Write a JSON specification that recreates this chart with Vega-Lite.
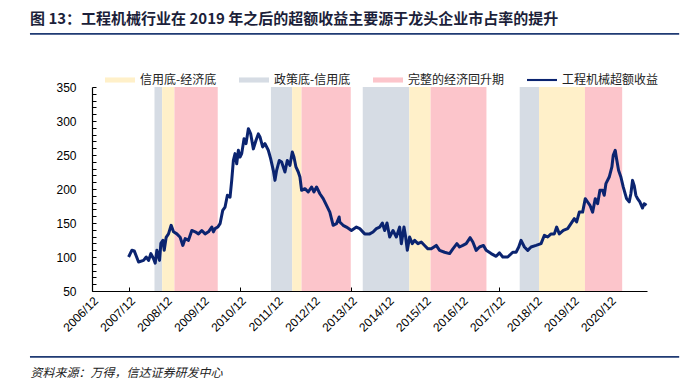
{
  "$schema": "https://vega.github.io/schema/vega-lite/v6.json",
  "autosize": {"type": "none"},
  "width": 555,
  "height": 204,
  "padding": {"left": 92, "top": 87, "right": 42, "bottom": 90},
  "background": "white",
  "title": {
    "text": "图 13：工程机械行业在 2019 年之后的超额收益主要源于龙头企业市占率的提升",
    "anchor": "start",
    "frame": "group",
    "dx": -62,
    "offset": 6,
    "font": "Noto Sans CJK SC",
    "fontSize": 15,
    "fontWeight": "bold",
    "color": "#1c1f3a"
  },
  "config": {
    "view": {"stroke": null},
    "axis": {"labelFont": "Liberation Sans", "labelFontSize": 12, "labelColor": "#000", "domainColor": "#000", "tickColor": "#000", "grid": false}
  },
  "resolve": {"axis": {"x": "independent", "y": "independent"}},
  "datasets": {
    "phases": [
      {"t": 2008.606, "end": 2008.813, "phase": "政策底-信用底"},
      {"t": 2008.813, "end": 2009.145, "phase": "信用底-经济底"},
      {"t": 2009.145, "end": 2010.316, "phase": "完整的经济回升期"},
      {"t": 2011.754, "end": 2012.328, "phase": "政策底-信用底"},
      {"t": 2012.328, "end": 2012.582, "phase": "信用底-经济底"},
      {"t": 2012.582, "end": 2013.912, "phase": "完整的经济回升期"},
      {"t": 2014.236, "end": 2015.495, "phase": "政策底-信用底"},
      {"t": 2015.495, "end": 2016.07, "phase": "信用底-经济底"},
      {"t": 2016.07, "end": 2017.58, "phase": "完整的经济回升期"},
      {"t": 2018.479, "end": 2019.002, "phase": "政策底-信用底"},
      {"t": 2019.002, "end": 2020.243, "phase": "信用底-经济底"},
      {"t": 2020.243, "end": 2021.249, "phase": "完整的经济回升期"}
    ],
    "series": [
      {"t": 2007.906, "v": 100}, {"t": 2007.996, "v": 110}, {"t": 2008.059, "v": 109}, {"t": 2008.176, "v": 92.6},
      {"t": 2008.311, "v": 95}, {"t": 2008.383, "v": 100}, {"t": 2008.446, "v": 95}, {"t": 2008.509, "v": 105},
      {"t": 2008.581, "v": 97.5}, {"t": 2008.626, "v": 91}, {"t": 2008.671, "v": 110}, {"t": 2008.743, "v": 95},
      {"t": 2008.779, "v": 120}, {"t": 2008.833, "v": 124.5}, {"t": 2008.869, "v": 110}, {"t": 2008.922, "v": 129},
      {"t": 2008.985, "v": 134}, {"t": 2009.057, "v": 146.6}, {"t": 2009.120, "v": 137}, {"t": 2009.210, "v": 134},
      {"t": 2009.300, "v": 129}, {"t": 2009.372, "v": 117}, {"t": 2009.435, "v": 127}, {"t": 2009.525, "v": 124.5},
      {"t": 2009.615, "v": 139}, {"t": 2009.705, "v": 137}, {"t": 2009.795, "v": 134}, {"t": 2009.885, "v": 139},
      {"t": 2009.975, "v": 134}, {"t": 2010.065, "v": 137}, {"t": 2010.155, "v": 144}, {"t": 2010.199, "v": 137},
      {"t": 2010.244, "v": 141.7}, {"t": 2010.316, "v": 144}, {"t": 2010.379, "v": 149}, {"t": 2010.451, "v": 168.6},
      {"t": 2010.514, "v": 173.5}, {"t": 2010.577, "v": 190.7}, {"t": 2010.649, "v": 188}, {"t": 2010.694, "v": 212.7},
      {"t": 2010.739, "v": 242}, {"t": 2010.784, "v": 252}, {"t": 2010.829, "v": 237}, {"t": 2010.874, "v": 257},
      {"t": 2010.919, "v": 247}, {"t": 2010.964, "v": 252}, {"t": 2011.027, "v": 274}, {"t": 2011.081, "v": 266.7},
      {"t": 2011.144, "v": 288.7}, {"t": 2011.207, "v": 281}, {"t": 2011.279, "v": 259}, {"t": 2011.351, "v": 271.6},
      {"t": 2011.413, "v": 281}, {"t": 2011.458, "v": 276.5}, {"t": 2011.530, "v": 261.8}, {"t": 2011.593, "v": 266.7},
      {"t": 2011.683, "v": 257}, {"t": 2011.746, "v": 244.6}, {"t": 2011.818, "v": 227.5}, {"t": 2011.863, "v": 212.7},
      {"t": 2011.908, "v": 227.5}, {"t": 2011.980, "v": 242}, {"t": 2012.043, "v": 239.7}, {"t": 2012.133, "v": 225},
      {"t": 2012.196, "v": 242}, {"t": 2012.268, "v": 234.8}, {"t": 2012.331, "v": 254.4}, {"t": 2012.376, "v": 247},
      {"t": 2012.430, "v": 232.4}, {"t": 2012.493, "v": 225}, {"t": 2012.538, "v": 217.6}, {"t": 2012.583, "v": 198},
      {"t": 2012.673, "v": 200.5}, {"t": 2012.762, "v": 195.6}, {"t": 2012.852, "v": 203}, {"t": 2012.915, "v": 195.6},
      {"t": 2012.987, "v": 203}, {"t": 2013.077, "v": 193}, {"t": 2013.167, "v": 185.8}, {"t": 2013.257, "v": 176},
      {"t": 2013.346, "v": 166}, {"t": 2013.436, "v": 146.6}, {"t": 2013.526, "v": 149}, {"t": 2013.598, "v": 158.8},
      {"t": 2013.615, "v": 151.5}, {"t": 2013.705, "v": 146.6}, {"t": 2013.795, "v": 144}, {"t": 2013.930, "v": 139},
      {"t": 2014.065, "v": 144}, {"t": 2014.155, "v": 141.7}, {"t": 2014.289, "v": 134}, {"t": 2014.424, "v": 134},
      {"t": 2014.514, "v": 136.8}, {"t": 2014.604, "v": 141.7}, {"t": 2014.694, "v": 144}, {"t": 2014.766, "v": 150},
      {"t": 2014.829, "v": 139}, {"t": 2014.892, "v": 150}, {"t": 2014.964, "v": 129.4}, {"t": 2015.054, "v": 139},
      {"t": 2015.144, "v": 129.4}, {"t": 2015.234, "v": 144}, {"t": 2015.279, "v": 119.6}, {"t": 2015.351, "v": 144},
      {"t": 2015.396, "v": 129.4}, {"t": 2015.441, "v": 109.8}, {"t": 2015.503, "v": 129.4}, {"t": 2015.575, "v": 119.6},
      {"t": 2015.638, "v": 124.5}, {"t": 2015.728, "v": 119.6}, {"t": 2015.818, "v": 122}, {"t": 2015.908, "v": 117},
      {"t": 2015.998, "v": 112}, {"t": 2016.088, "v": 112}, {"t": 2016.223, "v": 117}, {"t": 2016.313, "v": 109.8},
      {"t": 2016.448, "v": 107}, {"t": 2016.583, "v": 105}, {"t": 2016.673, "v": 112}, {"t": 2016.781, "v": 119.6},
      {"t": 2016.852, "v": 114.7}, {"t": 2016.942, "v": 117}, {"t": 2017.032, "v": 119.6}, {"t": 2017.140, "v": 128.4},
      {"t": 2017.212, "v": 122}, {"t": 2017.302, "v": 109.8}, {"t": 2017.392, "v": 114.7}, {"t": 2017.500, "v": 117},
      {"t": 2017.572, "v": 109.8}, {"t": 2017.707, "v": 105}, {"t": 2017.842, "v": 101}, {"t": 2017.932, "v": 106},
      {"t": 2018.022, "v": 100}, {"t": 2018.156, "v": 100}, {"t": 2018.291, "v": 107}, {"t": 2018.381, "v": 107},
      {"t": 2018.453, "v": 114.7}, {"t": 2018.516, "v": 124.5}, {"t": 2018.606, "v": 114.7}, {"t": 2018.696, "v": 109.8},
      {"t": 2018.786, "v": 114.7}, {"t": 2018.921, "v": 117}, {"t": 2019.056, "v": 119.6}, {"t": 2019.146, "v": 131.9},
      {"t": 2019.236, "v": 129.4}, {"t": 2019.326, "v": 134}, {"t": 2019.415, "v": 134}, {"t": 2019.478, "v": 144},
      {"t": 2019.550, "v": 134}, {"t": 2019.658, "v": 139}, {"t": 2019.775, "v": 141.7}, {"t": 2019.865, "v": 149},
      {"t": 2019.955, "v": 156.4}, {"t": 2020.018, "v": 151.5}, {"t": 2020.090, "v": 166}, {"t": 2020.180, "v": 166},
      {"t": 2020.252, "v": 185.8}, {"t": 2020.315, "v": 180.9}, {"t": 2020.378, "v": 176}, {"t": 2020.450, "v": 166},
      {"t": 2020.522, "v": 185.8}, {"t": 2020.585, "v": 178.4}, {"t": 2020.647, "v": 198}, {"t": 2020.719, "v": 198},
      {"t": 2020.764, "v": 190.7}, {"t": 2020.809, "v": 207.8}, {"t": 2020.899, "v": 217.6}, {"t": 2020.971, "v": 232.4},
      {"t": 2021.007, "v": 249.5}, {"t": 2021.061, "v": 256.9}, {"t": 2021.097, "v": 244.6}, {"t": 2021.151, "v": 227.5},
      {"t": 2021.214, "v": 217.6}, {"t": 2021.277, "v": 203}, {"t": 2021.367, "v": 185.8}, {"t": 2021.439, "v": 181},
      {"t": 2021.484, "v": 193}, {"t": 2021.529, "v": 212.7}, {"t": 2021.574, "v": 205}, {"t": 2021.619, "v": 190.7},
      {"t": 2021.664, "v": 185.8}, {"t": 2021.727, "v": 181}, {"t": 2021.799, "v": 172}, {"t": 2021.843, "v": 178.4},
      {"t": 2021.906, "v": 176}
    ]
  },
  "layer": [
    {
      "data": {"name": "phases"},
      "mark": {"type": "rect"},
      "encoding": {
        "x": {
          "field": "t", "type": "quantitative",
          "scale": {"domain": [2006.917, 2021.92], "zero": false, "nice": false},
          "axis": {
            "values": [2006.917, 2007.917, 2008.917, 2009.917, 2010.917, 2011.917, 2012.917, 2013.917, 2014.917, 2015.917, 2016.917, 2017.917, 2018.917, 2019.917, 2020.917],
            "labelExpr": "floor(datum.value) + '/12'",
            "labelOverlap": false,
            "labelAngle": -45, "labelAlign": "right", "labelBaseline": "top",
            "tickSize": -4, "labelPadding": 8, "domainWidth": 1.2,
            "title": "资料来源：万得，信达证券研发中心",
            "titleFont": "Noto Sans CJK SC", "titleFontSize": 12, "titleFontStyle": "italic", "titleFontWeight": "normal",
            "titleColor": "#222", "titleAnchor": "start", "titleAlign": "left", "titleBaseline": "middle",
            "titleX": -62, "titleY": 81, "titleAngle": 0
          }
        },
        "x2": {"field": "end"},
        "color": {
          "field": "phase", "type": "nominal",
          "scale": {
            "domain": ["信用底-经济底", "政策底-信用底", "完整的经济回升期", "工程机械超额收益"],
            "range": ["#FFF0C9", "#D6DCE4", "#FCC5CB", "#0B2470"]
          },
          "legend": {
            "orient": "none", "legendX": 13, "legendY": -22, "direction": "horizontal", "title": null,
            "symbolType": "M-1,-0.17L1,-0.17L1,0.17L-1,0.17Z", "symbolSize": 900, "symbolStrokeWidth": 0,
            "labelFont": "Noto Sans CJK SC", "labelFontSize": 12, "labelColor": "#222", "labelOffset": 5, "columnPadding": 22,
            "encode": {"symbols": {"update": {"shape": {"signal": "datum.label === '工程机械超额收益' ? 'M-1,-0.07L1,-0.07L1,0.07L-1,0.07Z' : 'M-1,-0.17L1,-0.17L1,0.17L-1,0.17Z'"}}}}
          }
        }
      }
    },
    {
      "data": {"name": "series"},
      "mark": {"type": "line", "strokeWidth": 3, "strokeJoin": "round"},
      "encoding": {
        "x": {"field": "t", "type": "quantitative", "scale": {"domain": [2006.917, 2021.92], "zero": false, "nice": false}, "axis": null},
        "y": {
          "field": "v", "type": "quantitative",
          "scale": {"domain": [50, 350], "zero": false, "nice": false},
          "axis": {
            "values": [50, 60, 70, 80, 90, 100, 110, 120, 130, 140, 150, 160, 170, 180, 190, 200, 210, 220, 230, 240, 250, 260, 270, 280, 290, 300, 310, 320, 330, 340, 350],
            "labelExpr": "datum.value % 50 === 0 ? datum.label : ''",
            "labelOverlap": false,
            "tickSize": -4, "labelPadding": 20, "title": null, "domainWidth": 1.2
          }
        },
        "color": {"datum": "工程机械超额收益"}
      }
    },
    {
      "data": {"values": [{"y": 428}, {"y": -47}]},
      "mark": {"type": "rule", "color": "#1F3A73", "strokeWidth": 1.8, "clip": false},
      "encoding": {
        "x": {"datum": 2005.24, "type": "quantitative", "scale": {"domain": [2006.917, 2021.92], "zero": false, "nice": false}, "axis": null},
        "x2": {"datum": 2022.79},
        "y": {"field": "y", "type": "quantitative", "scale": {"domain": [50, 350], "zero": false, "nice": false}, "axis": null}
      }
    }
  ]
}
